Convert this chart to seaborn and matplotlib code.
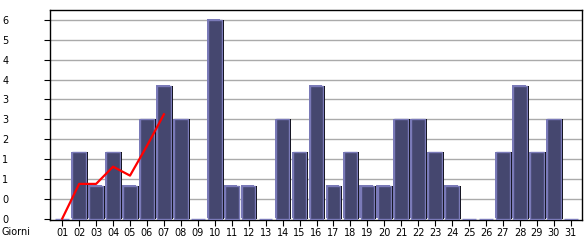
import numpy as np
import pandas as pd
import matplotlib
matplotlib.use("Agg")
import matplotlib.pyplot as plt
import matplotlib.patheffects as pe
import seaborn as sns

days = ["01", "02", "03", "04", "05", "06", "07", "08", "09", "10",
        "11", "12", "13", "14", "15", "16", "17", "18", "19", "20",
        "21", "22", "23", "24", "25", "26", "27", "28", "29", "30", "31"]
visits = [0, 2, 1, 2, 1, 3, 4, 3, 0, 6,
          1, 1, 0, 3, 2, 4, 1, 2, 1, 1,
          3, 3, 2, 1, 0, 0, 2, 4, 2, 3, 0]
trend_days = ["01", "02", "03", "04", "05", "06", "07"]
trend_values = [0.0, 1.05, 1.05, 1.57, 1.3, 2.2, 3.15]
ytick_values = [0.0, 0.6, 1.2, 1.8, 2.4, 3.0, 3.6, 4.2, 4.8, 5.4, 6.0]
ytick_labels = ["0", "0", "1", "1", "2", "3", "3", "4", "4", "5", "6"]
x_title = "Giorni"

W, H = 585, 240
fig = plt.figure(figsize=(W / 100, H / 100), dpi=100)
ax = fig.add_axes([50 / W, 20 / H, 532 / W, 210 / H])

df = pd.DataFrame({"day": days, "visits": visits})
sns.barplot(data=df, x="day", y="visits", ax=ax, color="#45476f",
            saturation=1, edgecolor="#7a7ab8", linewidth=1.0, width=0.80,
            zorder=3)
for p in ax.patches:
    p.set_path_effects([
        pe.SimplePatchShadow(offset=(1.4, 0), shadow_rgbFace="black", alpha=1.0),
        pe.SimplePatchShadow(offset=(-0.8, 0.5), shadow_rgbFace="#7a7ab8", alpha=1.0),
        pe.Normal(),
    ])

pos = {d: i for i, d in enumerate(days)}
tdf = pd.DataFrame({"x": [pos[d] for d in trend_days], "y": trend_values})
sns.lineplot(data=tdf, x="x", y="y", ax=ax, color="#ff0000", linewidth=1.6, zorder=5)

ax.set_xlim(-0.72, 30.66)
ax.set_ylim(-0.04, 6.3)
ax.set_yticks(ytick_values)
ax.set_yticklabels(ytick_labels)
for y in ytick_values[1:]:
    ax.axhline(y, color="#aaaaaa", linewidth=1.0, zorder=1)

ax.set_xlabel("")
ax.set_ylabel("")
for s in ax.spines.values():
    s.set_color("black")
    s.set_linewidth(1.0)

ax.tick_params(axis="y", length=4, width=0.8, pad=26, labelsize=7, colors="black")
ax.tick_params(axis="x", length=4, width=0.8, pad=2, labelsize=7, colors="black")

fig.text(2 / W, 8 / H, x_title, fontsize=7, va="center", ha="left")

fig.savefig("out.png", dpi=100, facecolor="white")
